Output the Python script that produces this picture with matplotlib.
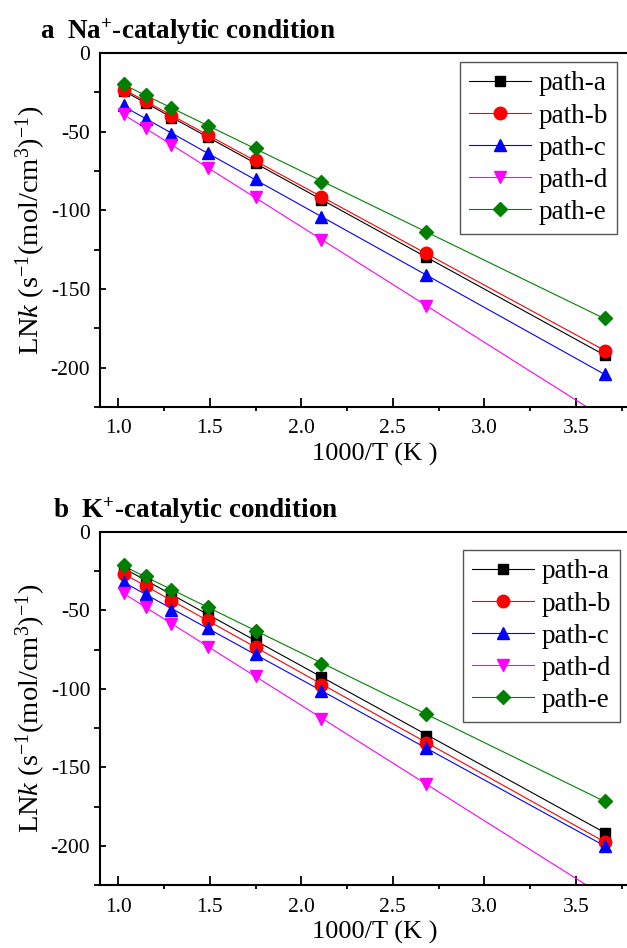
import numpy as np
import matplotlib
matplotlib.use('Agg')
import matplotlib.pyplot as plt
from matplotlib.lines import Line2D

# 字体设置：Times 风格
plt.rcParams['font.family'] = ['Liberation Serif', 'DejaVu Serif']
plt.rcParams['mathtext.fontset'] = 'custom'
plt.rcParams['mathtext.rm'] = 'Liberation Serif'
plt.rcParams['mathtext.it'] = 'Liberation Serif:italic'
plt.rcParams['mathtext.bf'] = 'Liberation Serif:bold'
plt.rcParams['axes.unicode_minus'] = False

# 数据：1000/T
x_inv_t = [1.03, 1.15, 1.29, 1.49, 1.75, 2.11, 2.68, 3.66]
paths = ['path-a', 'path-b', 'path-c', 'path-d', 'path-e']

# a: Na+ 催化条件
na_a = [-24.0, -31.5, -41.0, -53.5, -70.0, -93.6, -129.8, -191.9]
na_b = [-23.5, -30.5, -40.0, -52.1, -68.0, -91.3, -127.2, -189.4]
na_c = [-33.0, -42.0, -51.7, -63.8, -80.3, -104.3, -140.9, -204.3]
na_d = [-38.8, -47.9, -58.5, -73.3, -91.3, -119.1, -160.6, -232.0]
na_e = [-19.9, -26.7, -35.2, -46.2, -60.6, -81.8, -113.8, -168.7]

# b: K+ 催化条件
k_a = [-23.5, -31.4, -40.3, -51.9, -67.8, -92.2, -129.8, -191.7]
k_b = [-26.5, -34.3, -44.1, -56.1, -73.1, -97.4, -134.3, -197.4]
k_c = [-31.8, -39.6, -49.4, -61.4, -77.8, -101.3, -137.9, -200.0]
k_d = [-38.8, -47.7, -58.7, -73.1, -91.7, -119.4, -160.9, -232.0]
k_e = [-21.2, -28.2, -37.1, -48.1, -62.9, -84.1, -116.0, -171.5]

colors = ['black', 'red', 'blue', 'magenta', 'green']
markers = ['s', 'o', '^', 'v', 'D']
msizes = [7.5, 9, 9, 9, 7]

W, H = 627, 948
fig = plt.figure(figsize=(W / 100, H / 100), dpi=100)


def draw_panel(ax, series, leg_right, leg_top):
    x = np.array(x_inv_t)
    for ys, c, m, ms in zip(series, colors, markers, msizes):
        k, b = np.polyfit(x, ys, 1)
        ax.plot([x[0], x[-1]], [k * x[0] + b, k * x[-1] + b], color=c, lw=0.8, zorder=2)
        ax.plot(x, ys, ls='none', marker=m, ms=ms, color=c, zorder=3)
    ax.set_xlim(0.9, 3.9)
    ax.set_ylim(-225, 0)
    ax.set_xticks([1.0, 1.5, 2.0, 2.5, 3.0, 3.5])
    ax.set_xticks(np.arange(1.25, 3.9, 0.5), minor=True)
    ax.set_yticks([0, -50, -100, -150, -200])
    ax.set_yticks([-25, -75, -125, -175, -225], minor=True)
    ax.tick_params(direction='in', labelsize=15.5, width=1.3)
    ax.tick_params(axis='x', which='major', length=6.5, pad=9)
    ax.tick_params(axis='x', which='minor', length=3, width=1.3)
    ax.tick_params(axis='y', which='major', length=4, pad=7)
    ax.tick_params(axis='y', which='minor', length=4, width=1.3)
    for s in ax.spines.values():
        s.set_linewidth(1.5)
    ax.set_xlabel('1000/T (K )', fontsize=19, labelpad=3)
    ax.set_ylabel(r'LN$k$ (s$^{-1}$(mol/cm$^{3}$)$^{-1}$)', fontsize=20.5, labelpad=2)
    handles = [Line2D([], [], color=c, lw=0.8, marker=m, ms=ms)
               for c, m, ms in zip(colors, markers, msizes)]
    ax.legend(handles, paths, loc='upper right', bbox_to_anchor=(leg_right / W, 1 - leg_top / H),
              bbox_transform=fig.transFigure, fontsize=19.5, frameon=True, fancybox=False,
              edgecolor='#555555', framealpha=1, handlelength=2.3, handletextpad=0.25,
              labelspacing=0.26, borderpad=0.35, borderaxespad=0)
    ax.get_legend().get_frame().set_linewidth(1.0)


ax1 = fig.add_axes([100 / W, 1 - 407 / H, 549 / W, 354 / H])
draw_panel(ax1, [na_a, na_b, na_c, na_d, na_e], 617, 62)
ax2 = fig.add_axes([100 / W, 1 - 885 / H, 549 / W, 353 / H])
draw_panel(ax2, [k_a, k_b, k_c, k_d, k_e], 620, 550)

fig.text(40 / W, 1 - 39 / H, r'a  Na$^{\mathbf{+}}$-catalytic condition', fontsize=19.5,
         fontweight='bold', va='baseline', ha='left')
fig.text(53 / W, 1 - 518 / H, r'b  K$^{\mathbf{+}}$-catalytic condition', fontsize=19.5,
         fontweight='bold', va='baseline', ha='left')

fig.savefig('out.png', dpi=100)
